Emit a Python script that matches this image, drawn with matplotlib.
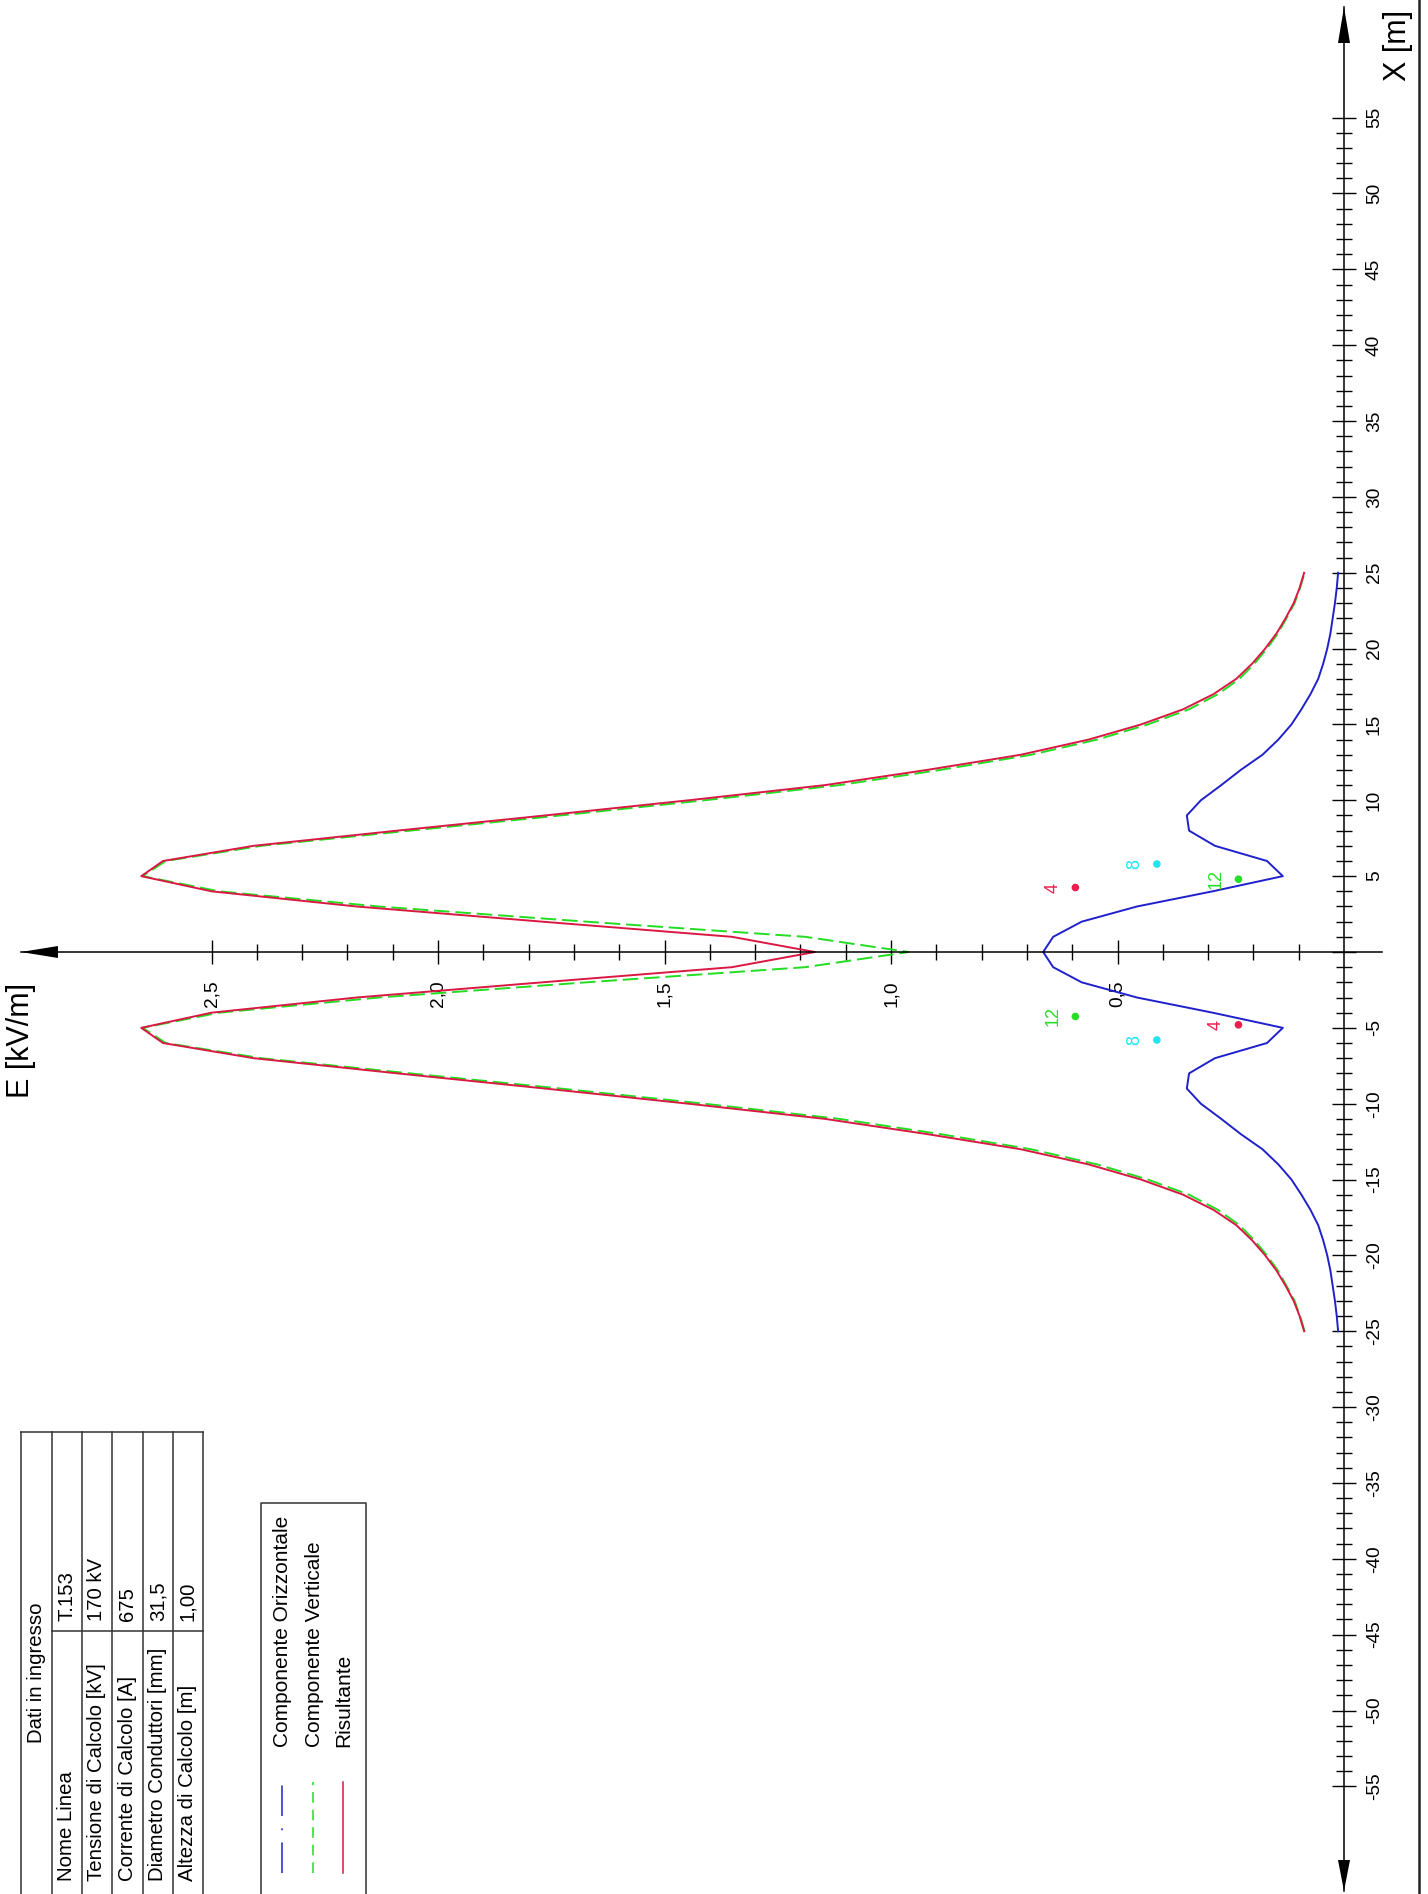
import matplotlib
matplotlib.use('Agg')
import matplotlib.pyplot as plt
from matplotlib.patches import Polygon

plt.rcParams['font.family'] = ['Liberation Sans', 'DejaVu Sans']
plt.rcParams['axes.unicode_minus'] = False

W, H, DPI = 1428, 1894, 100

# scala del disegno (pixel)
X0_PX = 1344      # colonna di E = 0
Y0_PX = 952       # riga di X = 0
PX_PER_E = 453    # px per 1 kV/m
PX_PER_M = 15.17  # px per 1 m

BLUE = '#2020cc'
GREEN = '#22dd22'
RED = '#da1844'
CYAN = '#22e3f2'

# profilo del campo, X = 0..25 m (il profilo e' simmetrico)
x_half = list(range(0, 26))
e_orizz_half = [0.664, 0.642, 0.579, 0.457, 0.290, 0.135, 0.170, 0.285, 0.342,
                0.347, 0.316, 0.271, 0.228, 0.180, 0.145, 0.116, 0.094, 0.074,
                0.057, 0.046, 0.037, 0.030, 0.025, 0.020, 0.016, 0.013]
e_vert_half = [0.961, 1.189, 1.673, 2.131, 2.483, 2.652, 2.601, 2.390, 2.062,
               1.730, 1.412, 1.114, 0.892, 0.691, 0.545, 0.433, 0.342, 0.278,
               0.231, 0.198, 0.170, 0.146, 0.127, 0.109, 0.097, 0.087]
e_ris_half = [1.168, 1.351, 1.770, 2.180, 2.500, 2.655, 2.607, 2.407, 2.090,
              1.764, 1.447, 1.146, 0.921, 0.714, 0.564, 0.448, 0.355, 0.288,
              0.238, 0.203, 0.174, 0.149, 0.129, 0.111, 0.098, 0.088]

# conduttori
cond_e = [0.593, 0.413, 0.233, 0.593, 0.413, 0.233]
cond_x = [4.25, 5.8, 4.8, -4.25, -5.8, -4.8]
cond_lab = ['4', '8', '12', '12', '8', '4']
cond_col = {'4': '#ee1f4f', '8': CYAN, '12': '#28dd28'}

# assi
x_major = list(range(-55, 56, 5))
x_minor = [v for v in range(-55, 56) if v % 5]
x_labels = ['' if v == 0 else str(v) for v in x_major]
e_major = [0.5, 1.0, 1.5, 2.0, 2.5]
e_minor = [0.1, 0.2, 0.3, 0.4, 0.6, 0.7, 0.8, 0.9, 1.1, 1.2, 1.3, 1.4,
           1.6, 1.7, 1.8, 1.9, 2.1, 2.2, 2.3, 2.4]
e_labels = ['0,5', '1,0', '1,5', '2,0', '2,5']

# tabella dati
table_rows = ['Nome Linea', 'Tensione di Calcolo [kV]', 'Corrente di Calcolo [A]',
              'Diametro Conduttori [mm]', 'Altezza di Calcolo [m]']
table_vals = ['T.153', '170 kV', '675', '31,5', '1,00']
legend_labels = ['Componente Orizzontale', 'Componente Verticale', 'Risultante']


def mirror(v):
    return v[:0:-1] + v


x_m = [-v for v in x_half[:0:-1]] + x_half
e_orizz = mirror(e_orizz_half)
e_vert = mirror(e_vert_half)
e_ris = mirror(e_ris_half)

fig = plt.figure(figsize=(W / DPI, H / DPI), dpi=DPI)

# pagina in pixel: tabella, legenda, cornice
pg = fig.add_axes([0, 0, 1, 1])
pg.set_xlim(0, W)
pg.set_ylim(H, 0)
pg.axis('off')

ax = fig.add_axes([0, 0, 1, 1])
ax.patch.set_alpha(0)
ax.set_xlim(X0_PX / PX_PER_E, (X0_PX - W) / PX_PER_E)
ax.set_ylim((Y0_PX - H) / PX_PER_M, Y0_PX / PX_PER_M)

for s in ['left', 'top']:
    ax.spines[s].set_visible(False)
ax.spines['right'].set_position(('data', 0.0))
ax.spines['right'].set_bounds((Y0_PX - 1891) / PX_PER_M, (Y0_PX - 7) / PX_PER_M)
ax.spines['bottom'].set_position(('data', 0.0))
ax.spines['bottom'].set_bounds((X0_PX - 1382) / PX_PER_E, (X0_PX - 21) / PX_PER_E)
for s in ['right', 'bottom']:
    ax.spines[s].set_linewidth(1.1)
ax.yaxis.set_ticks_position('right')
ax.xaxis.set_ticks_position('bottom')

ax.set_yticks(x_major, x_labels)
ax.set_yticks(x_minor, minor=True)
ax.set_xticks(e_major, e_labels)
ax.set_xticks(e_minor, minor=True)
ax.tick_params(which='major', direction='inout', length=17.3, width=1.0,
               labelsize=13.8, labelrotation=90)
ax.tick_params(which='minor', direction='inout', length=11.5, width=1.0)
ax.tick_params(axis='y', which='major', pad=7)
ax.tick_params(axis='x', which='major', pad=12)
plt.setp(ax.yaxis.get_majorticklabels(), va='center', ha='left')
plt.setp(ax.xaxis.get_majorticklabels(), va='top', ha='center')

# curve
ax.plot(e_orizz, x_m, color=BLUE, lw=1.4)
ax.plot(e_vert, x_m, color=GREEN, lw=1.4, dashes=(8, 3))
ax.plot(e_ris, x_m, color=RED, lw=1.4)

ax.scatter(cond_e, cond_x, s=20, c=[cond_col[l] for l in cond_lab], zorder=5)
for e, x, lab in zip(cond_e, cond_x, cond_lab):
    ax.annotate(lab, (e, x), xytext=(-16, 0), textcoords='offset points',
                rotation=90, ha='center', va='center', fontsize=13,
                color=cond_col[lab])

# frecce degli assi
for tri in ([(1344, 7), (1338, 43), (1350, 43)],
            [(1344, 1891), (1338, 1860), (1350, 1860)],
            [(21, 952), (58, 946), (58, 958)]):
    pg.add_patch(Polygon(tri, closed=True, color='black', lw=0))

pg.text(1398, 45, 'X [m]', rotation=90, ha='center', va='center', fontsize=22)
pg.text(21, 1040, 'E [kV/m]', rotation=90, ha='center', va='center', fontsize=22)

# cornice destra
pg.plot([1419, 1419], [0, H], color='#222222', lw=1.8)

# tabella "Dati in ingresso"
LINE = '#333333'
col_x = [20.7, 51.7, 81.7, 112.3, 142.7, 172.7, 202.7]
for cx in col_x:
    pg.plot([cx, cx], [1431.7, H + 5], color=LINE, lw=1.1)
pg.plot([col_x[0], col_x[-1]], [1431.7, 1431.7], color=LINE, lw=1.1)
pg.plot([col_x[1], col_x[-1]], [1630.7, 1630.7], color=LINE, lw=1.1)
pg.text((col_x[0] + col_x[1]) / 2, 1673, 'Dati in ingresso', rotation=90,
        ha='center', va='center', fontsize=14.7)
for i, (name, val) in enumerate(zip(table_rows, table_vals)):
    cx = (col_x[i + 1] + col_x[i + 2]) / 2
    pg.text(cx, 1881, name, rotation=90, ha='center', va='bottom', fontsize=14.7)
    pg.text(cx, 1621, val, rotation=90, ha='center', va='bottom', fontsize=14.7)

# legenda
pg.plot([261, 261, 366, 366], [H + 5, 1503, 1503, H + 5], color=LINE, lw=1.1)
leg_x = [282, 313, 343]
pg.plot([leg_x[0], leg_x[0]], [1873, 1782], color=BLUE, lw=1.1,
        dashes=(20, 8, 1.3, 8))
pg.plot([leg_x[1], leg_x[1]], [1873, 1782], color=GREEN, lw=1.1, dashes=(7, 4.5))
pg.plot([leg_x[2], leg_x[2]], [1873, 1782], color=RED, lw=1.1)
for lx, lab in zip(leg_x, legend_labels):
    pg.text(lx + 1, 1747, lab, rotation=90, ha='center', va='bottom', fontsize=15)

fig.savefig('out.png', dpi=DPI)
